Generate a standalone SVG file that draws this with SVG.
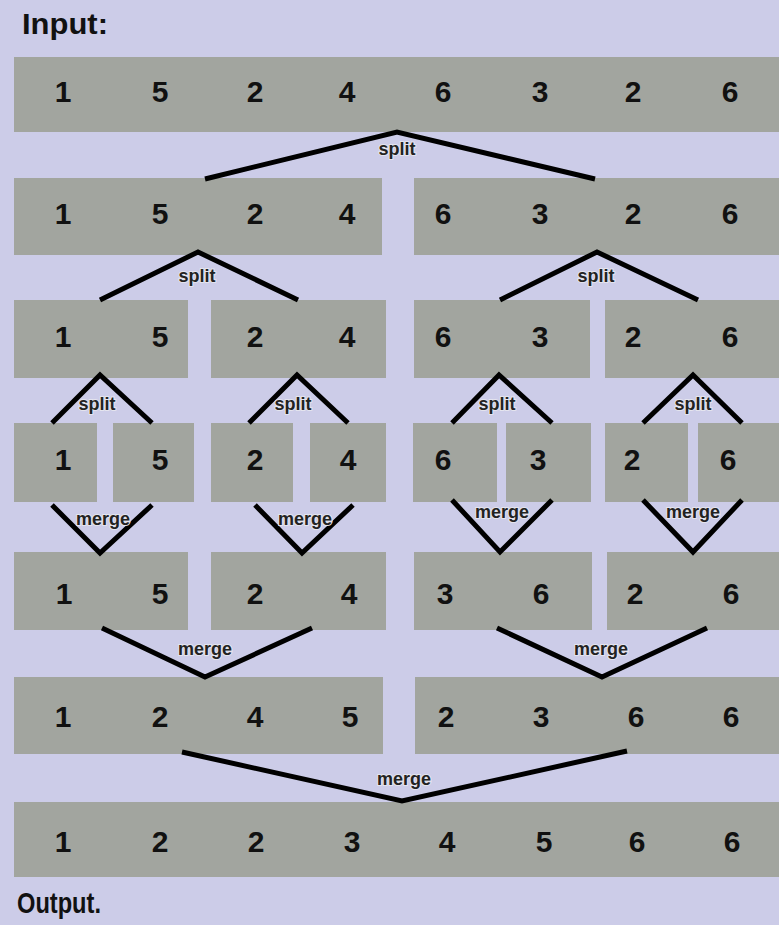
<svg xmlns="http://www.w3.org/2000/svg" width="779" height="925" viewBox="0 0 779 925">
<style>
.box{fill:#a2a59f}
.d{font-family:"Liberation Sans",Arial,sans-serif;font-size:30px;font-weight:bold;fill:#111;text-anchor:middle}
.t{font-family:"Liberation Sans",Arial,sans-serif;font-size:30px;font-weight:bold;fill:#111}
.c{fill:none;stroke:#000;stroke-width:5;stroke-linejoin:miter;stroke-linecap:butt}
.l{font-family:"Liberation Sans",Arial,sans-serif;font-size:18px;font-weight:bold;fill:#222;text-anchor:middle;stroke:#e4e4ee;stroke-width:2;paint-order:stroke}
</style>
<rect width="779" height="925" fill="#ccccE8"/>
<text class="t" x="22" y="34" textLength="86" lengthAdjust="spacingAndGlyphs">Input:</text>
<text class="t" x="17" y="913" textLength="84" lengthAdjust="spacingAndGlyphs">Output.</text>

<g id="row1">
<g id="n1"><rect class="box" x="14" y="57" width="765" height="75"/>
<text class="d" y="102"><tspan x="63">1</tspan><tspan x="160">5</tspan><tspan x="255">2</tspan><tspan x="347">4</tspan><tspan x="443">6</tspan><tspan x="540">3</tspan><tspan x="633">2</tspan><tspan x="730">6</tspan></text></g>
</g>

<g id="row2">
<g id="n2a"><rect class="box" x="14" y="178" width="368" height="77"/>
<text class="d" y="224"><tspan x="63">1</tspan><tspan x="160">5</tspan><tspan x="255">2</tspan><tspan x="347">4</tspan></text></g>
<g id="n2b"><rect class="box" x="414" y="178" width="365" height="77"/>
<text class="d" y="224"><tspan x="443">6</tspan><tspan x="540">3</tspan><tspan x="633">2</tspan><tspan x="730">6</tspan></text></g>
</g>

<g id="row3">
<g id="n3a"><rect class="box" x="14" y="300" width="174" height="78"/>
<text class="d" y="347"><tspan x="63">1</tspan><tspan x="160">5</tspan></text></g>
<g id="n3b"><rect class="box" x="211" y="300" width="175" height="78"/>
<text class="d" y="347"><tspan x="255">2</tspan><tspan x="347">4</tspan></text></g>
<g id="n3c"><rect class="box" x="414" y="300" width="176" height="78"/>
<text class="d" y="347"><tspan x="443">6</tspan><tspan x="540">3</tspan></text></g>
<g id="n3d"><rect class="box" x="605" y="300" width="174" height="78"/>
<text class="d" y="347"><tspan x="633">2</tspan><tspan x="730">6</tspan></text></g>
</g>

<g id="row4">
<g id="n4a"><rect class="box" x="14" y="423" width="83" height="79"/><text class="d" x="63" y="470">1</text></g>
<g id="n4b"><rect class="box" x="113" y="423" width="81" height="79"/><text class="d" x="160" y="470">5</text></g>
<g id="n4c"><rect class="box" x="211" y="423" width="82" height="79"/><text class="d" x="255" y="470">2</text></g>
<g id="n4d"><rect class="box" x="310" y="423" width="76" height="79"/><text class="d" x="348" y="470">4</text></g>
<g id="n4e"><rect class="box" x="413" y="423" width="84" height="79"/><text class="d" x="443" y="470">6</text></g>
<g id="n4f"><rect class="box" x="506" y="423" width="85" height="79"/><text class="d" x="538" y="470">3</text></g>
<g id="n4g"><rect class="box" x="605" y="423" width="83" height="79"/><text class="d" x="632" y="470">2</text></g>
<g id="n4h"><rect class="box" x="698" y="423" width="81" height="79"/><text class="d" x="728" y="470">6</text></g>
</g>

<g id="row5">
<g id="n5a"><rect class="box" x="14" y="552" width="174" height="78"/>
<text class="d" y="604"><tspan x="64">1</tspan><tspan x="160">5</tspan></text></g>
<g id="n5b"><rect class="box" x="211" y="552" width="175" height="78"/>
<text class="d" y="604"><tspan x="255">2</tspan><tspan x="349">4</tspan></text></g>
<g id="n5c"><rect class="box" x="414" y="552" width="178" height="78"/>
<text class="d" y="604"><tspan x="445">3</tspan><tspan x="541">6</tspan></text></g>
<g id="n5d"><rect class="box" x="607" y="552" width="172" height="78"/>
<text class="d" y="604"><tspan x="635">2</tspan><tspan x="731">6</tspan></text></g>
</g>

<g id="row6">
<g id="n6a"><rect class="box" x="14" y="677" width="369" height="77"/>
<text class="d" y="727"><tspan x="63">1</tspan><tspan x="160">2</tspan><tspan x="255">4</tspan><tspan x="350">5</tspan></text></g>
<g id="n6b"><rect class="box" x="415" y="677" width="364" height="77"/>
<text class="d" y="727"><tspan x="446">2</tspan><tspan x="541">3</tspan><tspan x="636">6</tspan><tspan x="731">6</tspan></text></g>
</g>

<g id="row7">
<g id="n7"><rect class="box" x="14" y="802" width="765" height="75"/>
<text class="d" y="852"><tspan x="63">1</tspan><tspan x="160">2</tspan><tspan x="256">2</tspan><tspan x="352">3</tspan><tspan x="447">4</tspan><tspan x="544">5</tspan><tspan x="637">6</tspan><tspan x="732">6</tspan></text></g>
</g>

<g id="connectors">
<polyline class="c" points="205,179 397,132 595,179"/>
<polyline class="c" points="100,300 198,252 298,300"/>
<polyline class="c" points="500,300 597,252 698,300"/>
<polyline class="c" points="52,423 100,375 152,423"/>
<polyline class="c" points="249,423 297,375 348,423"/>
<polyline class="c" points="452,423 499,375 552,423"/>
<polyline class="c" points="643,423 693,375 742,423"/>
<polyline class="c" points="52,505 100,553 152,505"/>
<polyline class="c" points="255,505 302,553 353,505"/>
<polyline class="c" points="452,500 500,552 552,500"/>
<polyline class="c" points="643,500 693,552 742,500"/>
<polyline class="c" points="102,628 205,677 312,628"/>
<polyline class="c" points="497,628 602,677 707,628"/>
<polyline class="c" points="182,752 402,801 627,751"/>
<text class="l" x="397" y="155">split</text>
<text class="l" x="197" y="282">split</text>
<text class="l" x="596" y="282">split</text>
<text class="l" x="97" y="410">split</text>
<text class="l" x="293" y="410">split</text>
<text class="l" x="497" y="410">split</text>
<text class="l" x="693" y="410">split</text>
<text class="l" x="103" y="525">merge</text>
<text class="l" x="305" y="525">merge</text>
<text class="l" x="502" y="518">merge</text>
<text class="l" x="693" y="518">merge</text>
<text class="l" x="205" y="655">merge</text>
<text class="l" x="601" y="655">merge</text>
<text class="l" x="404" y="785">merge</text>
</g>
</svg>
